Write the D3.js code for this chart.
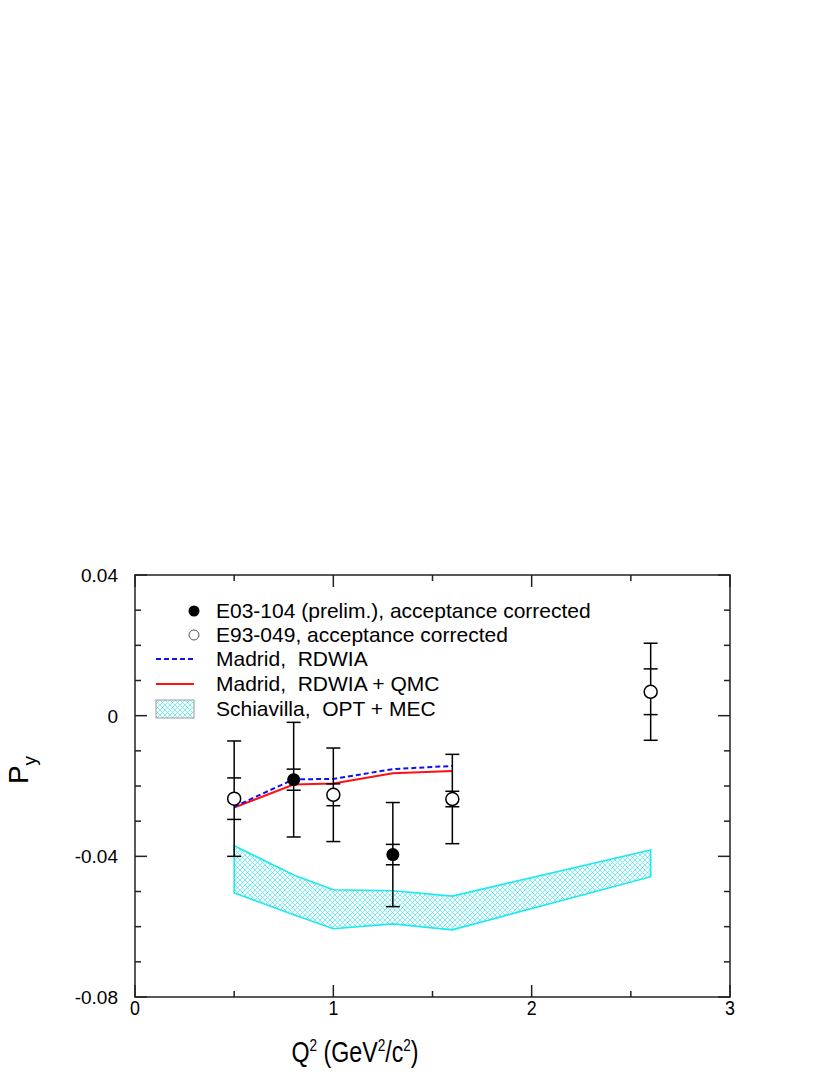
<!DOCTYPE html>
<html><head><meta charset="utf-8">
<script src="https://cdn.jsdelivr.net/npm/d3@7"></script>
<style>body{margin:0;background:#fff}svg{display:block}text{font-family:"Liberation Sans",Arial,sans-serif}</style>
</head><body><svg id="c" width="830" height="1075"></svg>
<script>
// E03-104 (filled)
const e03x = [0.8, 1.3];
const e03y = [-0.0182, -0.0395];
const e03stat = [0.0030, 0.0029];
const e03tot = [0.0163, 0.0148];
// E93-049 (open)
const e93x = [0.5, 1.0, 1.6, 2.6];
const e93y = [-0.0236, -0.0225, -0.0237, 0.0068];
const e93stat = [0.0059, 0.0031, 0.0022, 0.0065];
const e93tot = [0.0164, 0.0133, 0.0127, 0.0138];
// Madrid curves
const madX = [0.5, 0.8, 1.0, 1.3, 1.6];
const rdwia = [-0.0259, -0.0181, -0.0180, -0.0152, -0.0143];
const rdwiaQmc = [-0.0261, -0.0196, -0.0193, -0.0164, -0.0157];
// Schiavilla band
const schX = [0.5, 0.8, 1.0, 1.3, 1.6, 2.6];
const schUpper = [-0.0370, -0.0453, -0.0495, -0.0498, -0.0513, -0.0382];
const schLower = [-0.0504, -0.0566, -0.0606, -0.0592, -0.0609, -0.0458];
const xTicks = [0, 1, 2, 3];
const xMinor = [0.5, 1.5, 2.5];
const yTicks = [0.04, 0, -0.04, -0.08];
const yTickLabels = ["0.04", "0", "-0.04", "-0.08"];
const yMinor = [0.03, 0.02, 0.01, -0.01, -0.02, -0.03, -0.05, -0.06, -0.07];
const legendLabels = ["E03-104 (prelim.), acceptance corrected", "E93-049, acceptance corrected", "Madrid,  RDWIA", "Madrid,  RDWIA + QMC", "Schiavilla,  OPT + MEC"];

const svg = d3.select("#c");
const L = 135, R = 730, T = 575, B = 997;
const x = d3.scaleLinear().domain([0, 3]).range([L, R]);
const y = d3.scaleLinear().domain([-0.08, 0.04]).range([B, T]);

const defs = svg.append("defs");
const pat = defs.append("pattern").attr("id", "hatch").attr("patternUnits", "userSpaceOnUse")
  .attr("width", 5).attr("height", 5);
pat.append("path").attr("d", "M0,0L5,5M5,0L0,5").attr("stroke", "#40e8f0").attr("stroke-width", 0.7);

// band
const area = d3.area().x((d, i) => x(schX[i])).y0((d, i) => y(schLower[i])).y1(d => y(d));
svg.append("path").datum(schUpper).attr("d", area).attr("fill", "url(#hatch)")
  .attr("stroke", "#1ee8f0").attr("stroke-width", 1.6);

// curves
const line = d3.line().x((d, i) => x(madX[i])).y(d => y(d));
svg.append("path").datum(rdwiaQmc).attr("d", line).attr("fill", "none").attr("stroke", "#ff1010").attr("stroke-width", 2);
svg.append("path").datum(rdwia).attr("d", line).attr("fill", "none").attr("stroke", "#1010f0").attr("stroke-width", 2).attr("stroke-dasharray", "5,3");

// error bars
function errbars(xs, ys, st, tot) {
  const g = svg.append("g").attr("stroke", "#000").attr("stroke-width", 1.5);
  xs.forEach((xv, i) => {
    const cx = x(xv);
    g.append("line").attr("x1", cx).attr("x2", cx).attr("y1", y(ys[i] + tot[i])).attr("y2", y(ys[i] - tot[i]));
    [ys[i] + tot[i], ys[i] - tot[i], ys[i] + st[i], ys[i] - st[i]].forEach(v => {
      g.append("line").attr("x1", cx - 7).attr("x2", cx + 7).attr("y1", y(v)).attr("y2", y(v));
    });
  });
}
errbars(e93x, e93y, e93stat, e93tot);
errbars(e03x, e03y, e03stat, e03tot);
svg.append("g").selectAll("circle").data(e93x).join("circle")
  .attr("cx", d => x(d)).attr("cy", (d, i) => y(e93y[i])).attr("r", 6.5)
  .attr("fill", "#fff").attr("stroke", "#000").attr("stroke-width", 1.5);
svg.append("g").selectAll("circle").data(e03x).join("circle")
  .attr("cx", d => x(d)).attr("cy", (d, i) => y(e03y[i])).attr("r", 6.5).attr("fill", "#000");

// frame
svg.append("rect").attr("x", L).attr("y", T).attr("width", R - L).attr("height", B - T)
  .attr("fill", "none").attr("stroke", "#222").attr("stroke-width", 1.5);
const tk = svg.append("g").attr("stroke", "#222").attr("stroke-width", 1.5);
xTicks.forEach(v => { tk.append("line").attr("x1", x(v)).attr("x2", x(v)).attr("y1", B).attr("y2", B - 12);
  tk.append("line").attr("x1", x(v)).attr("x2", x(v)).attr("y1", T).attr("y2", T + 12); });
xMinor.forEach(v => { tk.append("line").attr("x1", x(v)).attr("x2", x(v)).attr("y1", B).attr("y2", B - 6);
  tk.append("line").attr("x1", x(v)).attr("x2", x(v)).attr("y1", T).attr("y2", T + 6); });
yTicks.forEach(v => { tk.append("line").attr("y1", y(v)).attr("y2", y(v)).attr("x1", L).attr("x2", L + 12);
  tk.append("line").attr("y1", y(v)).attr("y2", y(v)).attr("x1", R).attr("x2", R - 12); });
yMinor.forEach(v => { tk.append("line").attr("y1", y(v)).attr("y2", y(v)).attr("x1", L).attr("x2", L + 6);
  tk.append("line").attr("y1", y(v)).attr("y2", y(v)).attr("x1", R).attr("x2", R - 6); });

// tick labels
svg.append("g").selectAll("text").data(yTicks).join("text")
  .attr("x", 118).attr("y", d => y(d) + 7).attr("text-anchor", "end").attr("font-size", 19).text((d, i) => yTickLabels[i]);
svg.append("g").selectAll("text").data(xTicks).join("text")
  .attr("transform", d => `translate(${x(d)},1015) scale(0.85,1)`).attr("text-anchor", "middle").attr("font-size", 21)
  .text(d => d);

// axis titles
const xt = svg.append("text").attr("transform", "translate(355,1062) scale(0.8,1)").attr("text-anchor", "middle").attr("font-size", 29);
xt.append("tspan").text("Q");
xt.append("tspan").attr("dy", -11).attr("font-size", 17).text("2");
xt.append("tspan").attr("dy", 11).text(" (GeV");
xt.append("tspan").attr("dy", -11).attr("font-size", 17).text("2");
xt.append("tspan").attr("dy", 11).text("/c");
xt.append("tspan").attr("dy", -11).attr("font-size", 17).text("2");
xt.append("tspan").attr("dy", 11).text(")");
const yt = svg.append("text").attr("transform", "translate(28,770) rotate(-90)").attr("text-anchor", "middle").attr("font-size", 28);
yt.append("tspan").text("P");
yt.append("tspan").attr("dy", 8).attr("font-size", 19).text("y");

// legend
const lg = svg.append("g");
const ly = [611, 635, 659, 684, 709];
lg.append("circle").attr("cx", 194).attr("cy", ly[0]).attr("r", 5.5).attr("fill", "#000");
lg.append("circle").attr("cx", 194).attr("cy", ly[1]).attr("r", 5).attr("fill", "#fff").attr("stroke", "#555").attr("stroke-width", 1);
lg.append("line").attr("x1", 156).attr("x2", 194).attr("y1", ly[2]).attr("y2", ly[2]).attr("stroke", "#1010f0").attr("stroke-width", 2).attr("stroke-dasharray", "5,3");
lg.append("line").attr("x1", 156).attr("x2", 194).attr("y1", ly[3]).attr("y2", ly[3]).attr("stroke", "#ff1010").attr("stroke-width", 2);
lg.append("rect").attr("x", 156).attr("y", ly[4] - 9).attr("width", 38).attr("height", 18).attr("fill", "url(#hatch)").attr("stroke", "#999").attr("stroke-width", 1);
lg.selectAll("text").data(legendLabels).join("text").attr("x", 216).attr("y", (d, i) => ly[i] + 7)
  .attr("font-size", 21).style("white-space", "pre").text(d => d);
</script></body></html>
